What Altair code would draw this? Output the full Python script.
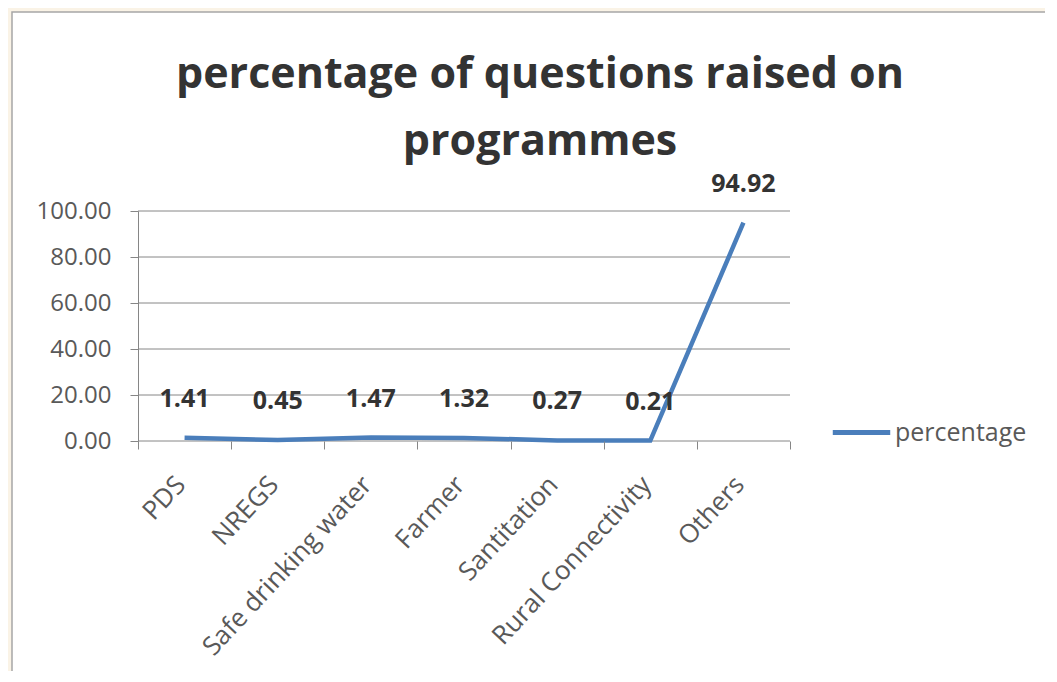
import altair as alt
import pandas as pd

categories = ["PDS", "NREGS", "Safe drinking water", "Farmer", "Santitation", "Rural Connectivity", "Others"]
values = [1.41, 0.45, 1.47, 1.32, 0.27, 0.21, 94.92]
series_name = "percentage"
title_lines = "percentage of questions raised on\nprogrammes"
y_ticks = [0, 20, 40, 60, 80, 100]

df = pd.DataFrame({"category": categories, "value": values, "series": [series_name] * len(categories)})
grid_df = pd.DataFrame({"g": y_ticks})

FONT = "Open Sans"
W, H = 652, 230

base = alt.Chart(df)

panel = alt.Chart(pd.DataFrame({"p": [0]})).mark_rect(
    fill="white", stroke="#a6a6a6", strokeWidth=1.5
).encode(
    x=alt.value(-126), x2=alt.value(912), y=alt.value(-199), y2=alt.value(480)
)

title = alt.Chart(pd.DataFrame({"t": [title_lines]})).mark_text(
    font=FONT, fontSize=43, fontWeight="bold", color="#333333",
    align="center", baseline="alphabetic", lineBreak="\n", lineHeight=67
).encode(
    x=alt.value(402), y=alt.value(-123), text="t:N"
)

yscale = alt.Scale(domain=[0, 100], nice=False)

grid = alt.Chart(grid_df).mark_rule(color="#868686", strokeWidth=1).encode(
    y=alt.Y("g:Q", scale=yscale)
)

xenc = alt.X("category:N", sort=categories, title=None,
             scale=alt.Scale(paddingInner=0, paddingOuter=0),
             axis=alt.Axis(labelAngle=-47, labelAlign="right", labelBaseline="middle",
                           labelFont=FONT, labelFontSize=26, labelColor="#595959",
                           labelPadding=31, labelOffset=-4, tickBand="extent", tickSize=8,
                           tickColor="#868686", domain=False,
                           grid=False, labelLimit=400, zindex=1))
yenc = alt.Y("value:Q", title=None, scale=yscale,
             axis=alt.Axis(values=y_ticks, format=".2f", labelFont=FONT, labelFontSize=24,
                           labelColor="#595959", labelPadding=19, tickSize=8,
                           tickColor="#868686", domainColor="#868686",
                           grid=False, zindex=1))

line = base.mark_line(strokeWidth=4.5).encode(
    x=xenc, y=yenc,
    color=alt.Color("series:N", scale=alt.Scale(domain=[series_name], range=["#4a7ebb"]),
                    legend=alt.Legend(title=None, orient="none", legendX=692, legendY=190,
                                      symbolType="stroke", symbolSize=3300, symbolStrokeWidth=5,
                                      labelFont=FONT, labelFontSize=25, labelColor="#595959",
                                      labelOffset=2))
)

labels = base.mark_text(font=FONT, fontSize=25, fontWeight="bold", color="#333333",
                        dy=-39, baseline="middle").encode(
    x=alt.X("category:N", sort=categories), y="value:Q", text=alt.Text("value:Q", format=".2f")
)

chart = alt.layer(panel, title, grid, line, labels).properties(
    width=W, height=H,
    background="#faf3e6",
    padding={"left": 130, "top": 203, "right": 255, "bottom": 230},
    autosize=alt.AutoSizeParams(type="none"),
).configure_view(stroke=None)

chart.save("out.html", embed_options={"renderer": "svg", "actions": False})
